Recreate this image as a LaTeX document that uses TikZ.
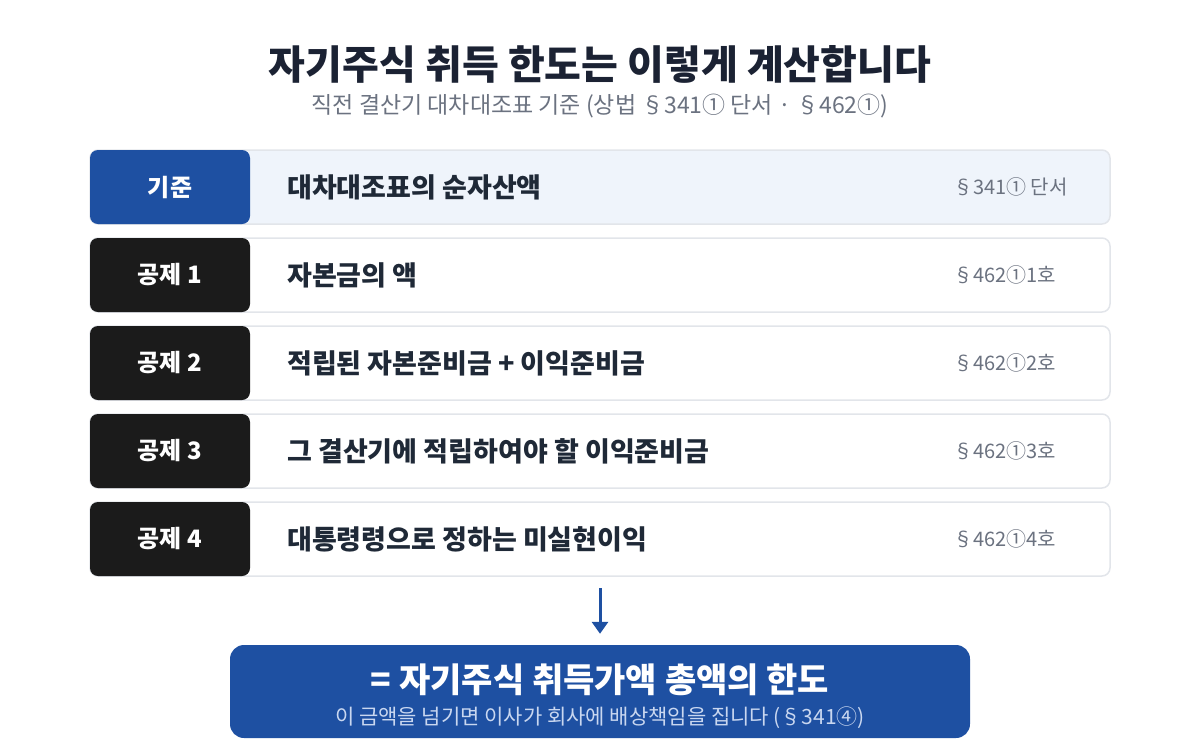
\documentclass[tikz,border=0pt]{standalone}
\usepackage{fontspec}
\setmainfont{Noto Sans CJK KR}
\usetikzlibrary{arrows.meta}
\definecolor{navyink}{HTML}{1B2233}
\definecolor{rowink}{HTML}{1F2937}
\definecolor{grayink}{HTML}{6B7280}
\definecolor{edgegray}{HTML}{E2E5EA}
\definecolor{basefill}{HTML}{EFF4FB}
\definecolor{baseblue}{HTML}{1E50A2}
\definecolor{dedblack}{HTML}{1B1B1B}
\definecolor{notelight}{HTML}{C9D7F0}
\tikzset{
  titletext/.style={font=\fontsize{40}{46}\selectfont\bfseries, text=navyink, inner sep=0pt},
  subtext/.style={font=\fontsize{23}{27}\selectfont, text=grayink, inner sep=0pt},
  rowbox/.style={draw=edgegray, line width=1.5pt, rounded corners=8pt, minimum width=1020pt, minimum height=74pt, inner sep=0pt},
  labbox/.style={rounded corners=8pt, minimum width=160pt, minimum height=74pt, inner sep=0pt, text=white, font=\fontsize{24}{28}\selectfont\bfseries},
  itemtext/.style={anchor=west, inner sep=0pt, text=rowink, font=\fontsize{27}{31}\selectfont\bfseries},
  reftext/.style={anchor=west, inner sep=0pt, text=grayink, font=\fontsize{20}{24}\selectfont},
  resbox/.style={fill=baseblue, rounded corners=14pt, minimum width=740pt, minimum height=93pt, inner sep=0pt},
  downarrow/.style={baseblue, line width=3pt, -{Triangle[width=16pt,length=12pt]}}
}
\begin{document}
\begin{tikzpicture}[x=1pt, y=-1pt]
  \useasboundingbox (0,0) rectangle (1200,740);
  % title
  \node[titletext] (title) at (600,64) {자기주식 취득 한도는 이렇게 계산합니다};
  \node[subtext] (subtitle) at (600,106) {직전 결산기 대차대조표 기준 (상법 §341① 단서 · §462①)};
  % base row
  \node[rowbox, fill=basefill] (row0) at (600,187) {};
  \node[labbox, fill=baseblue] (lab0) at (170,187) {기준};
  \node[itemtext] (item0) at (287,187) {대차대조표의 순자산액};
  \node[reftext] (ref0) at (953,187) {§341① 단서};
  % deductions
  \node[rowbox, fill=white] (row1) at (600,275) {};
  \node[labbox, fill=dedblack] (lab1) at (170,275) {공제 1};
  \node[itemtext] (item1) at (287,275) {자본금의 액};
  \node[reftext] (ref1) at (953,275) {§462①1호};
  \node[rowbox, fill=white] (row2) at (600,363) {};
  \node[labbox, fill=dedblack] (lab2) at (170,363) {공제 2};
  \node[itemtext] (item2) at (287,363) {적립된 자본준비금 + 이익준비금};
  \node[reftext] (ref2) at (953,363) {§462①2호};
  \node[rowbox, fill=white] (row3) at (600,451) {};
  \node[labbox, fill=dedblack] (lab3) at (170,451) {공제 3};
  \node[itemtext] (item3) at (287,451) {그 결산기에 적립하여야 할 이익준비금};
  \node[reftext] (ref3) at (953,451) {§462①3호};
  \node[rowbox, fill=white] (row4) at (600,539) {};
  \node[labbox, fill=dedblack] (lab4) at (170,539) {공제 4};
  \node[itemtext] (item4) at (287,539) {대통령령으로 정하는 미실현이익};
  \node[reftext] (ref4) at (953,539) {§462①4호};
  % result
  \node[resbox] (res) at (600,691.5) {};
  \node[inner sep=0pt, text=white, font=\fontsize{34}{38}\selectfont\bfseries] (restext) at (600,680) {= 자기주식 취득가액 총액의 한도};
  \node[inner sep=0pt, text=notelight, font=\fontsize{21}{24}\selectfont] (resnote) at (600,718) {이 금액을 넘기면 이사가 회사에 배상책임을 집니다 (§341④)};
  \coordinate (arrtop) at (600,588);
  \draw[downarrow] (arrtop) -- ([yshift=11pt]res.north);
\end{tikzpicture}
\end{document}
